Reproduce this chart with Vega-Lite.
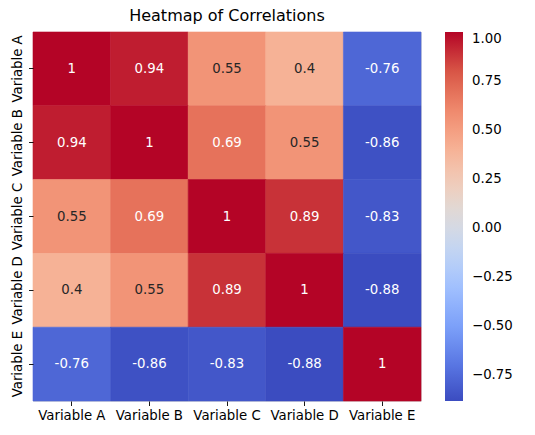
{
  "$schema": "https://vega.github.io/schema/vega-lite/v6.json",
  "autosize": {"type": "none"},
  "width": 388,
  "height": 369,
  "padding": {"left": 33, "top": 32, "right": 114, "bottom": 34},
  "background": "white",
  "title": {"text": "Heatmap of Correlations", "fontSize": 16, "fontWeight": "normal", "font": "DejaVu Sans", "color": "black", "offset": 8, "anchor": "middle"},
  "data": {"values": [
    {"row": "Variable A", "col": "Variable A", "value": 1},
    {"row": "Variable A", "col": "Variable B", "value": 0.94},
    {"row": "Variable A", "col": "Variable C", "value": 0.55},
    {"row": "Variable A", "col": "Variable D", "value": 0.4},
    {"row": "Variable A", "col": "Variable E", "value": -0.76},
    {"row": "Variable B", "col": "Variable A", "value": 0.94},
    {"row": "Variable B", "col": "Variable B", "value": 1},
    {"row": "Variable B", "col": "Variable C", "value": 0.69},
    {"row": "Variable B", "col": "Variable D", "value": 0.55},
    {"row": "Variable B", "col": "Variable E", "value": -0.86},
    {"row": "Variable C", "col": "Variable A", "value": 0.55},
    {"row": "Variable C", "col": "Variable B", "value": 0.69},
    {"row": "Variable C", "col": "Variable C", "value": 1},
    {"row": "Variable C", "col": "Variable D", "value": 0.89},
    {"row": "Variable C", "col": "Variable E", "value": -0.83},
    {"row": "Variable D", "col": "Variable A", "value": 0.4},
    {"row": "Variable D", "col": "Variable B", "value": 0.55},
    {"row": "Variable D", "col": "Variable C", "value": 0.89},
    {"row": "Variable D", "col": "Variable D", "value": 1},
    {"row": "Variable D", "col": "Variable E", "value": -0.88},
    {"row": "Variable E", "col": "Variable A", "value": -0.76},
    {"row": "Variable E", "col": "Variable B", "value": -0.86},
    {"row": "Variable E", "col": "Variable C", "value": -0.83},
    {"row": "Variable E", "col": "Variable D", "value": -0.88},
    {"row": "Variable E", "col": "Variable E", "value": 1}
  ]},
  "encoding": {
    "x": {"field": "col", "type": "nominal", "title": null,
      "axis": {"orient": "bottom", "labelAngle": 0, "domain": false, "tickSize": 4.5, "tickColor": "black", "tickWidth": 0.9, "labelPadding": 3, "labelFontSize": 13.3, "labelFont": "DejaVu Sans", "labelColor": "black"}},
    "y": {"field": "row", "type": "nominal", "title": null,
      "axis": {"orient": "left", "labelAngle": -90, "labelAlign": "center", "labelBaseline": "bottom", "domain": false, "tickSize": 4.5, "tickColor": "black", "tickWidth": 0.9, "labelPadding": 4, "labelFontSize": 13.3, "labelFont": "DejaVu Sans", "labelColor": "black"}}
  },
  "layer": [
    {
      "mark": {"type": "rect", "strokeWidth": 0.6, "stroke": {"expr": "scale('color', datum.value)"}},
      "encoding": {
        "color": {"field": "value", "type": "quantitative",
          "scale": {
            "domain": [-0.88, -0.692, -0.504, -0.316, -0.128, 0.06, 0.248, 0.436, 0.624, 0.812, 1.0],
            "range": ["#3b4cc0", "#5977e3", "#7b9ff9", "#9ebeff", "#c0d4f5", "#dddcdc", "#f2cbb7", "#f7ac8e", "#ee8468", "#d65244", "#b40426"],
            "interpolate": "rgb"
          },
          "legend": {"title": null, "orient": "right", "offset": 24, "padding": 0, "direction": "vertical", "gradientLength": 369, "gradientThickness": 18, "gradientStrokeWidth": 0, "values": [-0.75, -0.5, -0.25, 0, 0.25, 0.5, 0.75, 1], "format": ".2f", "labelFontSize": 13.3, "labelFont": "DejaVu Sans", "labelColor": "black", "labelOffset": 9}
        }
      }
    },
    {
      "mark": {"type": "text", "fontSize": 13.3, "font": "DejaVu Sans", "text": {"expr": "replace(format(datum.value, '.2~g'), '\u2212', '-')"}},
      "encoding": {
        "color": {
          "condition": {"test": "datum.value > 0.6 || datum.value < -0.3", "value": "white"},
          "value": "#262626"
        }
      }
    }
  ]
}
